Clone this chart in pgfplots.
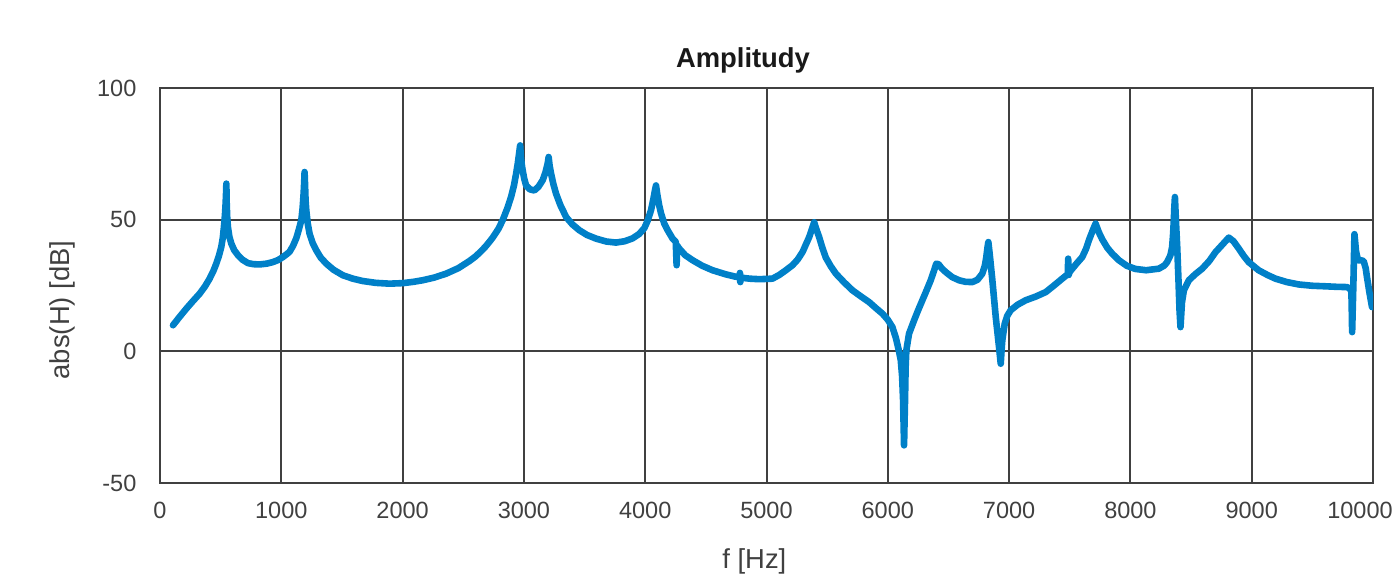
\documentclass[border=0pt]{standalone}
\usepackage{fontspec}
\setmainfont{Liberation Sans}
\usepackage{pgfplots}
\pgfplotsset{compat=1.18}
\definecolor{lineblue}{RGB}{0,128,200}
\definecolor{gridgray}{RGB}{64,64,64}
\definecolor{txtgray}{RGB}{64,64,64}
\begin{document}
\begin{tikzpicture}
\path[use as bounding box] (-80pt,-51.5pt) rectangle (617pt,241.5pt);
\begin{axis}[
  scale only axis, width=606.5pt, height=197.5pt,
  xmin=0, xmax=10000, ymin=-50, ymax=100,
  xtick={0,1000,2000,3000,4000,5000,6000,7000,8000,9000},
  xticklabels={0,1000,2000,3000,4000,5000,6000,7000,8000,9000},
  extra x ticks={10000},
  extra x tick labels={10000},
  extra x tick style={grid=major, xticklabel style={xshift=-6.5pt}},
  ytick={-50,0,50,100},
  scaled x ticks=false,
  grid=major, major grid style={draw=gridgray, line width=1pt},
  axis line style={draw=gridgray, line width=1.3pt},
  tick style={draw=none},
  /pgf/number format/assume math mode=true,
  ticklabel style={font=\fontsize{11.75}{14}\selectfont, text=txtgray},
  xticklabel style={yshift=-6pt},
  yticklabel style={xshift=-8.3pt},
  title={\textbf{Amplitudy}},
  title style={font=\fontsize{13.7}{16}\selectfont, text=black!90, at={(axis description cs:0.4806,1)}, anchor=center, yshift=8pt},
  xlabel={f [Hz]},
  xlabel style={font=\fontsize{13.7}{16}\selectfont, text=txtgray, at={(axis description cs:0.49,0)}, anchor=center, yshift=-39pt},
  ylabel={abs(H) [dB]},
  ylabel style={font=\fontsize{13.7}{16}\selectfont, text=txtgray, at={(axis description cs:0,0.438)}, anchor=center, yshift=49pt},
]
\addplot[color=lineblue, line width=3.3pt, line join=round, line cap=round] coordinates {
(107,9.9) (160,13.0) (217,16.2) (270,19.0) (327,21.9) (370,24.6) (409,27.6)
(440,30.5) (464,33.3) (486,36.3) (505,39.6) (518,43.2) (527,47.2)
(535,51.5) (541,56.1) (545,60.5) (547,63.7) (550,56) (554,51) (560,47.2)
(572,43.5) (588,40.9) (612,38.4) (643,36.5) (680,34.8) (725,33.5)
(770,33.1) (821,33.0) (880,33.3) (931,33.9) (975,34.7) (1013,35.8)
(1045,36.9) (1068,37.8) (1096,40.0) (1124,43.0) (1145,46.3) (1165,49.8)
(1176,54.5) (1184,59.9) (1189,64.5) (1192,68.1) (1196,63) (1200,57.5)
(1206,53.6) (1218,48.5) (1233,44.7) (1258,41.2) (1288,38.4) (1325,35.6)
(1371,33.3) (1430,31.0) (1507,28.9) (1590,27.6) (1672,26.7) (1780,26.0)
(1892,25.7) (2002,25.9) (2090,26.4) (2166,27.0) (2260,28.0) (2359,29.5)
(2460,31.6) (2551,34.3) (2600,36.0) (2633,37.4) (2680,39.6) (2716,41.6)
(2743,43.2) (2790,46.5) (2825,49.8) (2865,54.5) (2894,58.6) (2918,63.0)
(2936,67.5) (2950,71.5) (2960,75.0) (2969,78.2) (2976,73.5) (2983,70.8)
(2990,68.7) (3003,65.5) (3018,63.0) (3050,61.5) (3086,61.1) (3120,62.5)
(3155,65.0) (3178,68.0) (3196,71.3) (3204,73.8) (3212,70.5) (3224,67.5)
(3243,63.5) (3265,59.9) (3300,55.6) (3348,51.0) (3400,48.2) (3457,46.0)
(3520,44.2) (3595,42.8) (3680,41.7) (3759,41.3) (3830,41.8) (3896,42.9)
(3951,44.6) (3993,46.8) (4020,49.6) (4048,53.6) (4068,58.0) (4080,61.0)
(4089,63.0) (4100,59.5) (4115,55.5) (4130,52.5) (4157,48.5) (4185,46.0)
(4226,42.8) (4252,41.6) (4259,32.7) (4263,40.2) (4281,39.0) (4330,36.5)
(4391,34.6) (4470,32.5) (4555,30.8) (4660,29.3) (4740,28.4) (4778,28.1)
(4781,29.8) (4784,26.3) (4788,28.0) (4860,27.6) (4940,27.4) (5049,27.6)
(5105,29.0) (5160,30.8) (5214,32.7) (5256,34.8) (5297,37.7) (5324,40.5)
(5352,43.4) (5375,46.5) (5393,49.0) (5410,46.5) (5434,43.4) (5460,39.4)
(5489,35.6) (5530,32.3) (5572,29.5) (5640,26.2) (5708,23.2) (5780,20.8)
(5846,18.7) (5900,16.5) (5956,14.3) (6000,12.0) (6038,9.2) (6066,5.2)
(6090,0.5) (6107,-3.4) (6118,-9.5) (6126,-18.6) (6134,-35.7) (6142,-18.6)
(6147,-6) (6153,0.4) (6175,6.7) (6217,11.8) (6250,15.6) (6285,19.4)
(6320,23.2) (6354,27.0) (6380,30.5) (6400,33.3) (6420,33.0) (6445,31.5)
(6478,30.1) (6530,28.2) (6587,27.0) (6640,26.4) (6697,26.3) (6740,27.2)
(6779,29.5) (6800,32.5) (6812,35.8) (6822,39.5) (6829,41.5) (6840,37.0)
(6862,27.0) (6890,13.0) (6917,1.6) (6931,-4.7) (6938,0.5) (6944,4.2)
(6964,10.5) (6985,13.5) (7013,15.6) (7070,17.7) (7137,19.4) (7220,20.8)
(7302,22.5) (7370,25.0) (7438,27.6) (7484,29.3) (7487,35.2) (7491,29.0)
(7500,30.2) (7550,33.0) (7603,35.8) (7635,39.0) (7658,42.2) (7690,46.0)
(7713,48.5) (7740,45.2) (7768,42.5) (7810,39.3) (7850,37.1) (7905,34.6)
(7970,32.5) (8040,31.3) (8130,30.8) (8235,31.4) (8280,32.6) (8303,33.9)
(8330,36.5) (8344,39.6) (8352,44.5) (8358,49.8) (8362,54.5) (8367,58.6)
(8375,50) (8386,39.6) (8396,27.5) (8405,15.6) (8413,9.2) (8425,18.5)
(8441,23.2) (8482,27.0) (8535,29.3) (8592,31.4) (8650,34.3) (8702,37.7)
(8760,40.6) (8811,43.2) (8850,41.8) (8894,39.0) (8935,36.2) (8975,33.9)
(9057,30.8) (9130,29.0) (9196,27.6) (9290,26.3) (9388,25.4) (9500,24.9)
(9608,24.7) (9700,24.5) (9786,24.4) (9810,23.8) (9822,22.5) (9825,15.6)
(9828,7.3) (9838,25) (9847,44.5) (9860,38.0) (9876,34.6) (9900,34.6)
(9923,34.3) (9940,31.5) (9950,28.3) (9970,22.5) (9992,16.8)
};
\end{axis}
\end{tikzpicture}
\end{document}
